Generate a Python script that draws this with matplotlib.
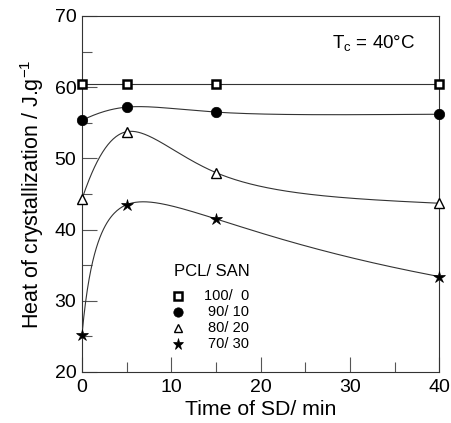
import numpy as np
import matplotlib
matplotlib.use("Agg")
import matplotlib.pyplot as plt
from matplotlib.ticker import MultipleLocator

plt.rcParams['font.family'] = ['Liberation Sans', 'DejaVu Sans']
plt.rcParams['mathtext.fontset'] = 'custom'
plt.rcParams['mathtext.rm'] = 'Liberation Sans'

# Time of spinodal decomposition (min)
time_sd = [0, 5, 15, 40]

# Heat of crystallization (J/g) for each PCL/SAN composition
pcl_100_0 = [60.5, 60.5, 60.5, 60.5]
pcl_90_10 = [55.35, 57.2, 56.5, 56.2]
pcl_80_20 = [44.3, 53.75, 48.0, 43.7]
pcl_70_30 = [25.2, 43.5, 41.5, 33.4]

labels = ["100/  0", "90/ 10", "80/ 20", "70/ 30"]


def natural_spline(u, y, uu):
    """Natural cubic spline through (u, y), evaluated at uu."""
    u = np.asarray(u, float)
    y = np.asarray(y, float)
    n = len(u)
    h = np.diff(u)
    A = np.zeros((n, n))
    b = np.zeros(n)
    A[0, 0] = A[-1, -1] = 1.0
    for i in range(1, n - 1):
        A[i, i - 1] = h[i - 1]
        A[i, i] = 2 * (h[i - 1] + h[i])
        A[i, i + 1] = h[i]
        b[i] = 6 * ((y[i + 1] - y[i]) / h[i] - (y[i] - y[i - 1]) / h[i - 1])
    M = np.linalg.solve(A, b)
    idx = np.clip(np.searchsorted(u, uu) - 1, 0, n - 2)
    u0, u1 = u[idx], u[idx + 1]
    hh = u1 - u0
    a = (u1 - uu) / hh
    c = (uu - u0) / hh
    return (a * y[idx] + c * y[idx + 1]
            + ((a ** 3 - a) * M[idx] + (c ** 3 - c) * M[idx + 1]) * hh ** 2 / 6)


def smooth_curve(x, y, scale):
    """Smooth guide line drawn on a log(1 + t/scale) time axis."""
    x = np.asarray(x, float)
    xx = np.linspace(x.min(), x.max(), 400)
    return xx, natural_spline(np.log1p(x / scale), y, np.log1p(xx / scale))


fig = plt.figure(figsize=(4.52, 4.23), dpi=100)
ax = fig.add_axes([0.1814, 0.1206, 0.7906, 0.8416])

line_kw = dict(color='#333333', lw=0.8, zorder=2)
series = [
    (pcl_100_0, 5.0, dict(marker='s', ms=6, mfc='white', mec='black', mew=1.8)),
    (pcl_90_10, 10.0, dict(marker='o', ms=7.5, mfc='black', mec='black', mew=0.5)),
    (pcl_80_20, 6.0, dict(marker='^', ms=6.5, mfc='white', mec='black', mew=1.0)),
    (pcl_70_30, 1.0, dict(marker='*', ms=9, mfc='black', mec='black', mew=0.5)),
]

for values, scale, mk in series:
    xx, yy = smooth_curve(time_sd, values, scale)
    ax.plot(xx, yy, **line_kw)
    ax.plot(time_sd, values, ls='none', zorder=3, clip_on=False, **mk)

ax.set_xlim(0, 40)
ax.set_ylim(20, 70)
ax.xaxis.set_major_locator(MultipleLocator(10))
ax.xaxis.set_minor_locator(MultipleLocator(5))
ax.yaxis.set_major_locator(MultipleLocator(10))
ax.yaxis.set_minor_locator(MultipleLocator(5))
ax.tick_params(which='both', direction='in', top=False, right=False,
               color='#555555', width=0.8, labelsize=14)
ax.tick_params(which='major', length=11)
ax.tick_params(which='minor', length=7)
ax.tick_params(axis='y', pad=4)
ax.tick_params(axis='x', pad=5)
for sp in ax.spines.values():
    sp.set_color('#333333')
    sp.set_linewidth(0.8)

ax.set_xlabel("Time of SD/ min", fontsize=15.3, labelpad=3)
ax.set_ylabel(r"Heat of crystallization / J.g$^\mathregular{-1}$", fontsize=15.5,
              labelpad=6)

ax.text(0.815, 0.922, r"T$_\mathregular{c}$ = 40°C", transform=ax.transAxes,
        fontsize=13.5, ha='center', va='center')

# Composition key
ax.text(0.258, 0.281, "PCL/ SAN", transform=ax.transAxes, fontsize=12,
        ha='left', va='center')
row_y = [0.214, 0.169, 0.124, 0.079]
for (values, scale, mk), lab, ry in zip(series, labels, row_y):
    k = dict(mk)
    k['ms'] = k['ms'] * 0.9
    ax.plot([0.268], [ry], transform=ax.transAxes, ls='none', **k)
    ax.text(0.468, ry, lab, transform=ax.transAxes, fontsize=10.5,
            ha='right', va='center')

fig.savefig("out.png", dpi=100)
